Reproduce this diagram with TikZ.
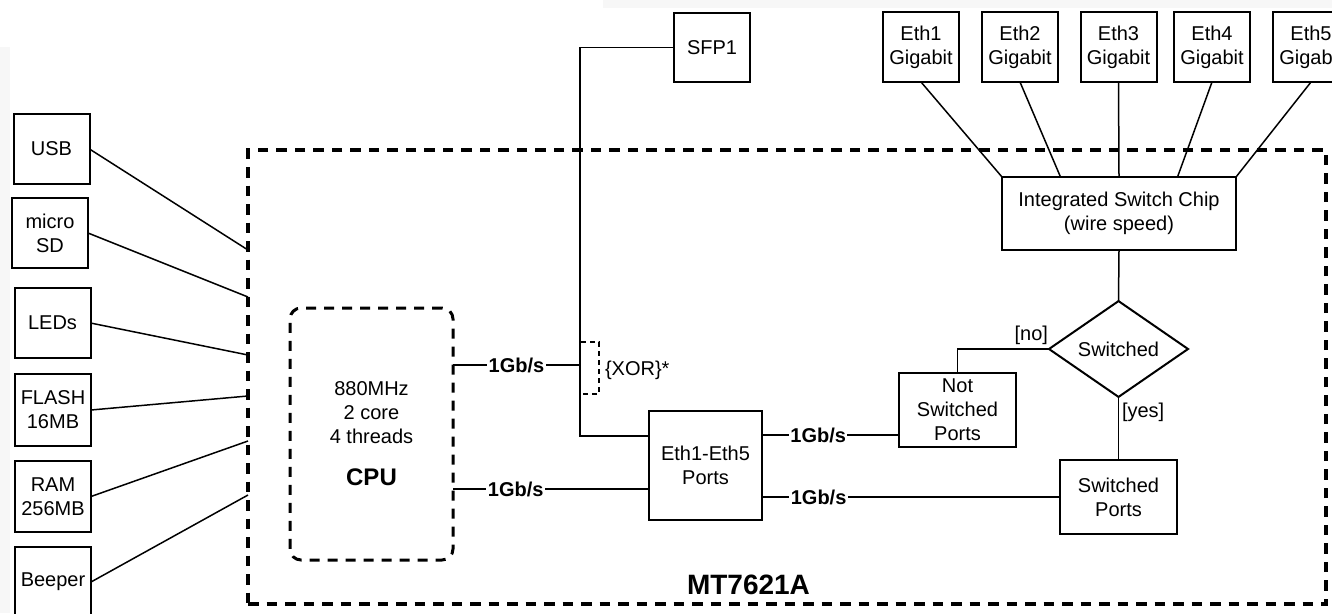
\documentclass[tikz,border=0pt]{standalone}
\usepackage{fontspec}
\setmainfont{Liberation Sans}
\usetikzlibrary{shapes.geometric}
\usetikzlibrary{calc}
\tikzstyle{every node}=[font=\fontsize{20}{24}\selectfont, inner sep=0pt, outer sep=0pt, align=center]
\tikzset{unitbox/.style={draw, line width=2pt, minimum width=76pt, minimum height=70pt},
	speed/.style={fill=white, inner sep=1.5pt, font=\fontsize{20}{24}\selectfont\bfseries},
	decide/.style={diamond, draw, line width=2pt, minimum width=139pt, minimum height=94pt},
	cpubox/.style={draw, line width=3pt, dash pattern=on 10pt off 8pt, rounded corners=11pt,
		minimum width=163pt, minimum height=252pt},
	socbox/.style={draw, line width=3.5pt, dash pattern=on 10.5pt off 8pt,
		minimum width=1078pt, minimum height=454pt},
	xorbox/.style={line width=1.3pt, dash pattern=on 5pt off 4pt}}

\begin{document}
\begin{tikzpicture}[x=1pt, y=-1pt, line width=1.5pt]
	\useasboundingbox (0,0) rectangle (1332,613);
	\clip (0,0) rectangle (1332,613);
	\fill[black!3] (603,0) rectangle (1332,8);
	\fill[black!3] (0,47) rectangle (10,613);
	\node[socbox] (soc) at (787,377) {};
	\node[anchor=west, font=\fontsize{28}{32}\selectfont\bfseries] (socname) at (687,585) {MT7621A};
	\node[unitbox] (usb) at (51.5,149) {USB};
	\node[unitbox] (sd) at (50,233) {micro\\SD};
	\node[unitbox] (led) at (52.5,323) {LEDs};
	\node[unitbox, minimum height=72pt] (flash) at (53,410) {FLASH\\16MB};
	\node[unitbox, minimum height=71pt] (ram) at (53,496.5) {RAM\\256MB};
	\node[unitbox] (beep) at (53,582) {Beeper};
	\node[unitbox, minimum height=69pt] (sfp) at (712,47.5) {SFP1};
	\foreach \i/\x in {1/921,2/1020,3/1118.5,4/1212,5/1311}
		\node[unitbox] (eth\i) at (\x,47) {Eth\i\\Gigabit};
	\node[unitbox, minimum width=234pt, minimum height=73pt] (chip) at (1119,213.5) {Integrated Switch Chip\\(wire speed)};
	\node[decide] (dec) at (1118.5,349) {Switched};
	\node[cpubox] (cpu) at (371.5,434) {880MHz\\2 core\\4 threads\\[18pt]{\fontsize{24}{28}\selectfont\bfseries CPU}};
	\node[unitbox, minimum width=113pt, minimum height=109pt] (ports) at (705.5,465.5) {Eth1-Eth5\\Ports};
	\node[unitbox, minimum width=117pt, minimum height=74pt] (nsw) at (957.5,410) {Not\\Switched\\Ports};
	\node[unitbox, minimum width=117pt, minimum height=74pt] (sw) at (1118.5,497) {Switched\\Ports};
	\node[anchor=west] (xor) at (605,370) {\{XOR\}*};
	\coordinate (jA) at (580,365);
	\foreach \n/\y in {usb/250,sd/297,led/355,flash/396,ram/441,beep/495}
		\draw (\n.east) to (soc.west |- 0,\y);
	\foreach \i/\f in {1/0,2/.25,3/.5,4/.75,5/1}
		\draw (eth\i.south) to ($(chip.north west)!\f!(chip.north east)$);
	\draw (cpu.east |- jA) to node[speed]{1Gb/s} (jA);
	\draw (sfp.west) -| (jA) |- (ports.west |- 0,436);
	\draw (cpu.east |- 0,489) to node[speed, pos=.32]{1Gb/s} (ports.west |- 0,489);
	\draw (ports.east |- 0,435) to node[speed, pos=.41]{1Gb/s} (nsw.west |- 0,435);
	\draw (ports.east |- sw.west) to node[speed, pos=.19]{1Gb/s} (sw.west);
	\draw[xorbox] (581,342) -| (599,394) -- (581,394);
	\draw (chip.south) to (dec.north);
	\draw (dec.west) -| node[pos=0, anchor=south east, xshift=-1pt, yshift=4pt]{[no]} (nsw.north);
	\draw (dec.south) to node[pos=.25, anchor=west, xshift=3.5pt]{[yes]} (sw.north);
\end{tikzpicture}
\end{document}
